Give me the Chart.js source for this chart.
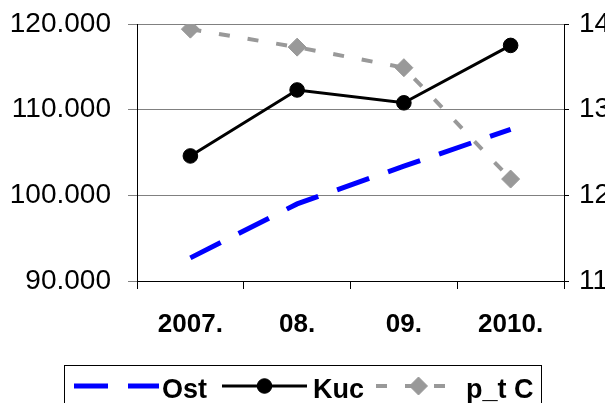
<!DOCTYPE html>
<html>
<head>
<meta charset="utf-8">
<script src="https://cdn.jsdelivr.net/npm/chart.js@4"></script>
<style>
  body { margin: 0; background: #fff; }
  canvas { display: block; }
</style>
</head>
<body>
<canvas id="chart" width="605" height="403"></canvas>
<script>
const years = ['2007.', '08.', '09.', '2010.'];
const ost = [92700, 99000, 103400, 107700];
const kuc = [104600, 112300, 110800, 117500];
const ptc = [13.94, 13.73, 13.49, 12.19];
const leftRange = [90000, 120000, 10000];
const rightRange = [11, 14, 1];

Chart.defaults.font.family = "'Liberation Sans', Arial, sans-serif";
Chart.defaults.color = '#000';

// thousands with a dot, like 120.000
const fmt = v => String(v).replace(/\B(?=(\d{3})+(?!\d))/g, '.');

// fixed axis width, no extra space above/below for labels
const fixWidth = w => s => { s.width = w; s.paddingTop = 0; s.paddingBottom = 0; };

// excel style legend: line sample with marker, boxed
const legendSampleX = [74, 222, 376];
const legendTextX = [162, 313, 466];
const boxLegend = {
  id: 'boxLegend',
  afterDraw(chart) {
    const ctx = chart.ctx;
    ctx.save();
    ctx.strokeStyle = '#000';
    ctx.lineWidth = 1;
    ctx.strokeRect(64.5, 365.5, 477, 60);

    ctx.font = "bold 27px 'Liberation Sans', Arial, sans-serif";
    ctx.textBaseline = 'middle';
    const y = 386;
    chart.data.datasets.forEach((ds, i) => {
      const x = legendSampleX[i];
      ctx.save();
      ctx.strokeStyle = ds.borderColor;
      ctx.lineWidth = ds.borderWidth;
      ctx.setLineDash(ds.borderDash || []);
      ctx.beginPath();
      ctx.moveTo(x, y);
      ctx.lineTo(x + 85, y);
      ctx.stroke();
      ctx.restore();
      if (ds.pointRadius > 0) {
        ctx.save();
        ctx.fillStyle = ds.pointBackgroundColor;
        ctx.strokeStyle = ds.pointBorderColor;
        ctx.lineWidth = 1;
        Chart.helpers.drawPoint(ctx, {
          pointStyle: ds.pointStyle, radius: ds.pointRadius, rotation: 0, borderWidth: 1
        }, x + 42.5, y);
        ctx.restore();
      }
      ctx.fillStyle = '#000';
      ctx.fillText(ds.label, legendTextX[i], y + 5);
    });
    ctx.restore();
  }
};

new Chart(document.getElementById('chart'), {
  type: 'line',
  data: {
    labels: years,
    datasets: [
      {
        label: 'Ost',
        data: ost,
        yAxisID: 'y',
        borderColor: '#0000ff',
        borderWidth: 5,
        borderDash: [34, 20],
        borderCapStyle: 'butt',
        pointRadius: 0,
        tension: 0,
        order: 2
      },
      {
        label: 'Kuc',
        data: kuc,
        yAxisID: 'y',
        borderColor: '#000',
        borderWidth: 3,
        pointStyle: 'circle',
        pointRadius: 7.3,
        pointBackgroundColor: '#000',
        pointBorderColor: '#000',
        pointBorderWidth: 1,
        tension: 0,
        order: 1
      },
      {
        label: 'p_t C',
        data: ptc,
        yAxisID: 'y1',
        borderColor: '#999999',
        borderWidth: 4,
        borderDash: [11, 18],
        borderCapStyle: 'butt',
        pointStyle: 'rectRot',
        pointRadius: 9,
        pointBackgroundColor: '#999999',
        pointBorderColor: '#999999',
        pointBorderWidth: 1,
        tension: 0,
        order: 0
      }
    ]
  },
  options: {
    responsive: false,
    animation: false,
    events: [],
    layout: { padding: { top: 24, bottom: 38, left: 0, right: 0 } },
    plugins: {
      legend: { display: false },
      tooltip: { enabled: false }
    },
    scales: {
      x: {
        offset: true,
        grid: { offset: true, drawOnChartArea: false, tickLength: 8, color: '#000' },
        border: { color: '#000' },
        ticks: { font: { size: 26, weight: 'bold' }, padding: 20, maxRotation: 0 },
        afterFit: s => { s.height = 84; }
      },
      y: {
        position: 'left',
        min: leftRange[0],
        max: leftRange[1],
        grid: { color: '#808080', tickLength: 9 },
        border: { color: '#000' },
        ticks: { stepSize: leftRange[2], font: { size: 28 }, padding: 17, callback: v => fmt(v) },
        afterFit: fixWidth(137)
      },
      y1: {
        position: 'right',
        min: rightRange[0],
        max: rightRange[1],
        grid: { drawOnChartArea: false, tickLength: 5, color: '#000' },
        border: { color: '#000' },
        ticks: { stepSize: rightRange[2], font: { size: 28 }, padding: 10 },
        afterFit: fixWidth(41)
      }
    }
  },
  plugins: [boxLegend]
});
</script>
</body>
</html>
